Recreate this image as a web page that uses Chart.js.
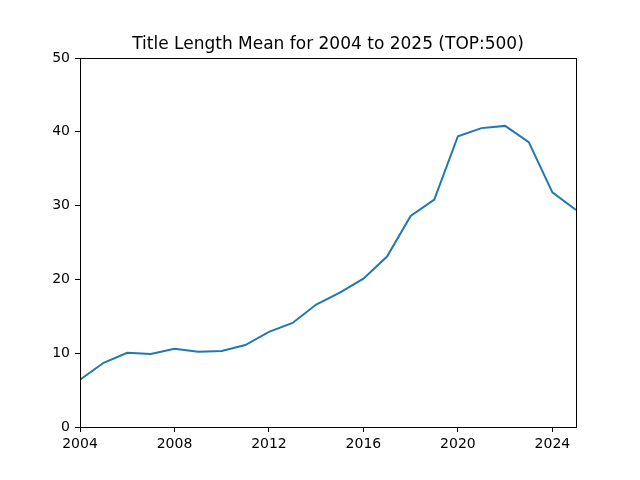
<!DOCTYPE html>
<html>
<head>
    <style>
        body { margin: 0; padding: 0; background: white; }
        #wrap { width: 640px; height: 480px; }
    </style>
    <script src="https://cdn.jsdelivr.net/npm/chart.js"></script>
</head>
<body>
    <div id="wrap">
        <canvas id="myChart" width="640" height="480"></canvas>
    </div>
    <script>
        // values
        const years = [2004, 2005, 2006, 2007, 2008, 2009, 2010, 2011, 2012, 2013, 2014,
                       2015, 2016, 2017, 2018, 2019, 2020, 2021, 2022, 2023, 2024, 2025];
        const meanLength = [6.4, 8.7, 10.05, 9.9, 10.6, 10.2, 10.3, 11.1, 12.9, 14.1, 16.6,
                            18.2, 20.1, 23.1, 28.6, 30.8, 39.4, 40.5, 40.8, 38.6, 31.8, 29.4];
        const xTicks = [2004, 2008, 2012, 2016, 2020, 2024];
        const yTicks = [0, 10, 20, 30, 40, 50];
        const chartTitle = 'Title Length Mean for 2004 to 2025 (TOP:500)';

        Chart.defaults.font.family = "'DejaVu Sans', sans-serif";
        Chart.defaults.font.size = 14;
        Chart.defaults.color = '#000';

        // box round the plot plus a title centred over the axes, like matplotlib
        const frame = {
            id: 'frame',
            afterDraw(chart) {
                const a = chart.chartArea;
                const ctx = chart.ctx;
                ctx.save();
                ctx.strokeStyle = '#000';
                ctx.lineWidth = 1;
                ctx.strokeRect(Math.round(a.left) + 0.5, Math.round(a.top) + 0.5,
                               Math.round(a.right - a.left), Math.round(a.bottom - a.top));
                ctx.fillStyle = '#000';
                ctx.font = "17px 'DejaVu Sans', sans-serif";
                ctx.textAlign = 'center';
                ctx.textBaseline = 'alphabetic';
                ctx.fillText(chartTitle, (a.left + a.right) / 2, a.top - 9);
                ctx.restore();
            }
        };

        const points = years.map((y, i) => ({ x: y, y: meanLength[i] }));

        new Chart(document.getElementById('myChart'), {
            type: 'line',
            data: {
                datasets: [{
                    data: points,
                    borderColor: '#1f77b4',
                    borderWidth: 2,
                    pointRadius: 0,
                    tension: 0,
                    fill: false
                }]
            },
            options: {
                responsive: false,
                animation: false,
                layout: { padding: { left: 0, right: 64, top: 58, bottom: 0 } },
                plugins: {
                    legend: { display: false },
                    tooltip: { enabled: false },
                    title: { display: false }
                },
                scales: {
                    x: {
                        type: 'linear',
                        min: 2004,
                        max: 2025,
                        afterFit(scale) { scale.height = 53; },
                        afterBuildTicks(scale) { scale.ticks = xTicks.map(v => ({ value: v })); },
                        border: { display: false },
                        grid: { drawOnChartArea: false, tickLength: 5, color: '#000' },
                        ticks: {
                            padding: 4,
                            maxRotation: 0,
                            autoSkip: false,
                            callback: v => String(v)
                        }
                    },
                    y: {
                        min: 0,
                        max: 50,
                        afterFit(scale) { scale.width = 80; },
                        afterBuildTicks(scale) { scale.ticks = yTicks.map(v => ({ value: v })); },
                        border: { display: false },
                        grid: { drawOnChartArea: false, tickLength: 5, color: '#000' },
                        ticks: { padding: 5, autoSkip: false }
                    }
                }
            },
            plugins: [frame]
        });
    </script>
</body>
</html>
